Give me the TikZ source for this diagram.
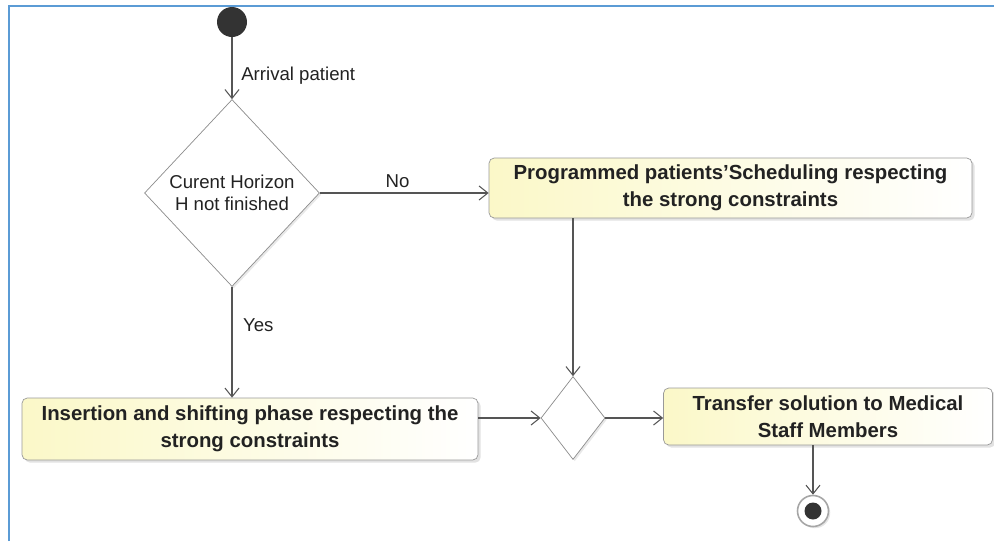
\documentclass[tikz,border=0pt]{standalone}
\usepackage{fontspec}
\setmainfont{Liberation Sans}
\usetikzlibrary{arrows.meta,shapes.geometric,shadows}
\definecolor{frameblue}{HTML}{5B9BD5}
\definecolor{linegray}{HTML}{555555}
\definecolor{boxyellow}{HTML}{FBF8C8}
\definecolor{inkgray}{HTML}{222222}

\begin{document}
\begin{tikzpicture}[
        flow/.style={draw=linegray, semithick, -{Straight Barb[length=5pt,width=8pt]}},
        action/.style={draw=gray!80, rounded corners=3pt, left color=boxyellow, right color=white,
            drop shadow={shadow xshift=1.5pt, shadow yshift=-1.5pt, fill=gray!45},
            text=inkgray, align=center, inner sep=0pt, font=\fontsize{11.6}{15.2}\selectfont\bfseries},
        choice/.style={diamond, draw=gray!90, fill=white, inner sep=0pt,
            drop shadow={shadow xshift=1pt, shadow yshift=-1pt, fill=gray!35},
            text=inkgray, align=center, font=\fontsize{10.6}{12.4}\selectfont},
        lbl/.style={text=inkgray, font=\fontsize{10.6}{12}\selectfont, inner sep=1pt}
    ]
        \useasboundingbox (0,0) rectangle (19.88,-10.82);

        % Rahmen
        \draw[frameblue, line width=1.6pt] (0.18,-10.82) -- (0.18,-0.12) -- (19.88,-0.12);

        % Start und Ende
        \node[circle, fill=black!80, minimum size=0.6cm, inner sep=0pt] (start) at (4.64,-0.44) {};
        \node[circle, draw=gray!70, line width=0.9pt, fill=white, minimum size=0.62cm, inner sep=0pt,
            drop shadow={shadow xshift=1pt, shadow yshift=-1pt, fill=gray!40}] (stop) at (16.26,-10.22) {};
        \node[circle, fill=black!80, minimum size=0.34cm, inner sep=0pt] (stopdot) at (stop) {};

        % Entscheidungen
        \node[choice, minimum width=3.5cm, minimum height=3.74cm] (horizon) at (4.64,-3.86)
            {Curent Horizon\\H not finished};
        \node[choice, minimum width=1.28cm, minimum height=1.66cm] (merge) at (11.46,-8.36) {};

        % Aktionen
        \node[action, minimum width=9.66cm, minimum height=1.2cm] (sched) at (14.61,-3.76)
            {Programmed patients'Scheduling respecting\\the strong constraints};
        \node[action, minimum width=9.12cm, minimum height=1.24cm] (insert) at (5.0,-8.58)
            {Insertion and shifting phase respecting the\\strong constraints};
        \node[action, minimum width=6.58cm, minimum height=1.14cm] (transfer) at (16.56,-8.33)
            {Transfer solution to Medical\\Staff Members};

        % Pfeile
        \draw[flow] (start) -- (horizon.north) node[lbl, pos=0.62, right=4pt] {Arrival patient};
        \draw[flow] (horizon.east) -- (horizon.east -| sched.west) node[lbl, pos=0.46, above=2pt] {No};
        \draw[flow] (horizon.south) -- (horizon.south |- insert.north) node[lbl, pos=0.35, right=5pt] {Yes};
        \draw[flow] (merge.north |- sched.south) -- (merge.north);
        \draw[flow] (insert.east |- merge.west) -- (merge.west);
        \draw[flow] (merge.east) -- (merge.east -| transfer.west);
        \draw[flow] (stop.north |- transfer.south) -- (stop.north);
    \end{tikzpicture}
\end{document}
